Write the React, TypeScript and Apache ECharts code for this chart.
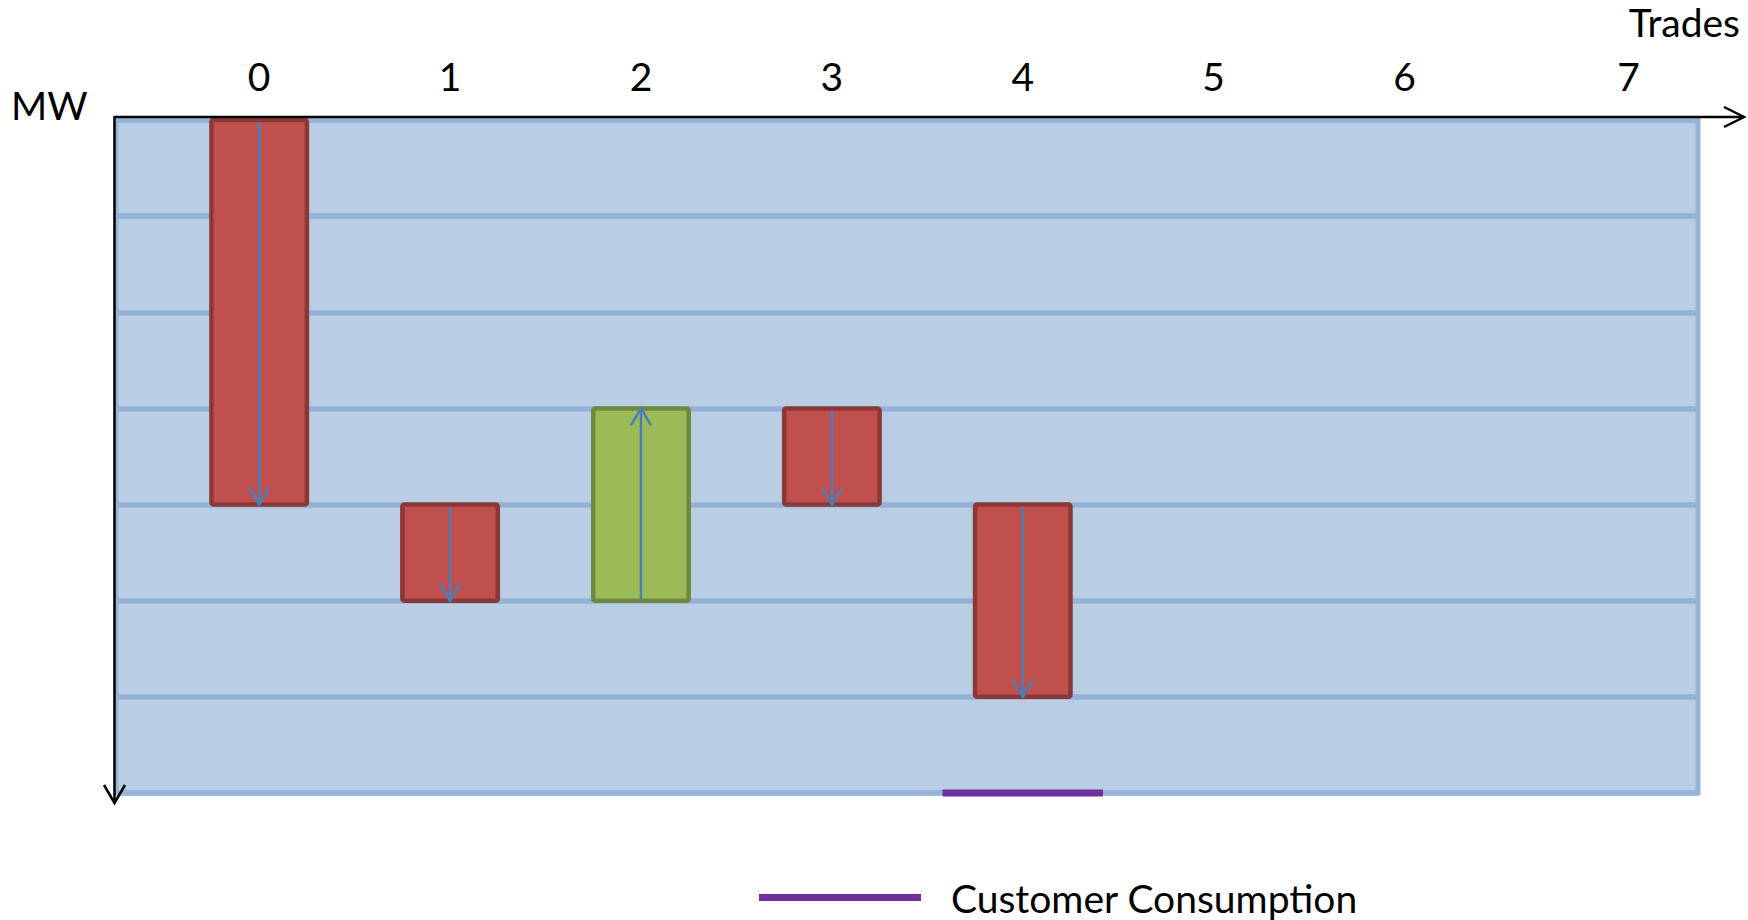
import React, { useEffect, useRef } from "react";
import * as echarts from "echarts";

// ---- data ----
const TRADE_LABELS = ["0", "1", "2", "3", "4", "5", "6", "7"];
const TRADE_TICKS = [0, 1, 2, 3, 4, 5, 6, 7];
const BAR_TRADE = [0, 1, 2, 3, 4];
const BAR_FROM_MW = [0, 4, 5, 3, 4];
const BAR_TO_MW = [4, 5, 3, 4, 6];
const CONSUMPTION_TRADE = [4];
const CONSUMPTION_MW = [7];
const MW_MIN = 0;
const MW_MAX = 7;

// ---- layout / style ----
const GRID_LEFT = 116;
const GRID_TOP = 120;
const GRID_W = 1582;
const GRID_H = 673;
const X_MIN = -0.75;
const X_MAX = 7.537;
const BAR_W = 0.5;
const CONS_HALF = 0.42;
const FONT = "Lato, 'Open Sans', sans-serif";
const FS = 39;

const RED = "#C0504D";
const RED_B = "#8C3836";
const GREEN = "#9BBB59";
const GREEN_B = "#71893F";
const ARROW = "#4A7EBB";
const PURPLE = "#7030A0";
const GRIDLINE = "#95B3D7";

export default function App() {
  const ref = useRef<HTMLDivElement>(null);
  useEffect(() => {
    document.body.style.margin = "0";
    const chart = echarts.init(ref.current!, null, { renderer: "svg" });
    const barData = BAR_TRADE.map((t, i) => [t, BAR_FROM_MW[i], BAR_TO_MW[i]]);
    const consData = CONSUMPTION_TRADE.map((t, i) => [t, CONSUMPTION_MW[i]]);

    const option: any = {
      animation: false,
      grid: {
        left: GRID_LEFT,
        top: GRID_TOP,
        width: GRID_W,
        height: GRID_H,
        show: true,
        backgroundColor: "#B9CDE5",
        borderColor: GRIDLINE,
        borderWidth: 5,
      },
      xAxis: {
        type: "value",
        position: "top",
        min: X_MIN,
        max: X_MAX,
        axisLine: { show: false },
        axisTick: { show: false },
        splitLine: { show: false },
        axisLabel: {
          customValues: TRADE_TICKS,
          margin: 25,
          color: "#000",
          fontSize: FS,
          fontFamily: FONT,
          formatter: (v: number) => {
            const idx = TRADE_TICKS.indexOf(Math.round(v));
            const s = TRADE_LABELS[idx] ?? String(v);
            return idx === TRADE_TICKS.length - 1 ? "{last|" + s + "}" : s;
          },
          rich: {
            last: { fontSize: FS, fontFamily: FONT, color: "#000", padding: [0, 0, 0, 66] },
          },
        },
      },
      yAxis: {
        type: "value",
        inverse: true,
        min: MW_MIN,
        max: MW_MAX,
        interval: 1,
        axisLine: { show: false },
        axisTick: { show: false },
        axisLabel: { show: false },
        splitLine: { show: true, lineStyle: { color: GRIDLINE, width: 5.5 } },
      },
      legend: {
        data: [{ name: "Customer Consumption", icon: "rect" }],
        left: 759,
        top: 878,
        padding: 0,
        itemWidth: 162,
        itemHeight: 7,
        textStyle: {
          fontSize: FS,
          fontFamily: FONT,
          color: "#000",
          lineHeight: 34,
          padding: [0, 0, 0, 25],
        },
      },
      series: [
        {
          type: "custom",
          name: "Trades",
          data: barData,
          encode: { x: 0, y: [1, 2] },
          renderItem: (params: any, api: any) => {
            const t = api.value(0);
            const a = api.value(1);
            const b = api.value(2);
            const p0 = api.coord([t, a]);
            const p1 = api.coord([t, b]);
            const w = api.size([BAR_W, 0])[0];
            const up = b < a;
            const top = Math.min(p0[1], p1[1]);
            const h = Math.abs(p1[1] - p0[1]);
            const dir = p1[1] > p0[1] ? 1 : -1;
            const x = p0[0];
            return {
              type: "group",
              children: [
                {
                  type: "rect",
                  shape: { x: x - w / 2, y: top, width: w, height: h, r: 2 },
                  style: { fill: up ? GREEN : RED, stroke: up ? GREEN_B : RED_B, lineWidth: 4.5 },
                },
                {
                  type: "line",
                  shape: { x1: x, y1: p0[1] + dir * 2, x2: x, y2: p1[1] },
                  style: { stroke: ARROW, lineWidth: 2.5 },
                },
                {
                  type: "polyline",
                  shape: {
                    points: [
                      [x - 10, p1[1] - dir * 17],
                      [x, p1[1]],
                      [x + 10, p1[1] - dir * 17],
                    ],
                  },
                  style: { stroke: ARROW, lineWidth: 2.5, fill: null },
                },
              ],
            };
          },
        },
        {
          type: "custom",
          name: "Customer Consumption",
          data: consData,
          encode: { x: 0, y: 1 },
          itemStyle: { color: PURPLE },
          z: 5,
          renderItem: (params: any, api: any) => {
            const t = api.value(0);
            const m = api.value(1);
            const pa = api.coord([t - CONS_HALF, m]);
            const pb = api.coord([t + CONS_HALF, m]);
            return {
              type: "line",
              shape: { x1: pa[0], y1: pa[1], x2: pb[0], y2: pb[1] },
              style: { stroke: PURPLE, lineWidth: 7 },
            };
          },
        },
      ],
      graphic: [
        {
          type: "line",
          z: 100,
          shape: { x1: 114.5, y1: 117, x2: 1744, y2: 117 },
          style: { stroke: "#000", lineWidth: 2.5 },
        },
        {
          type: "polyline",
          z: 100,
          shape: { points: [[1724, 107], [1744, 117], [1724, 127]] },
          style: { stroke: "#000", lineWidth: 2.5, fill: null },
        },
        {
          type: "line",
          z: 100,
          shape: { x1: 114.5, y1: 116, x2: 114.5, y2: 803 },
          style: { stroke: "#000", lineWidth: 2.5 },
        },
        {
          type: "polyline",
          z: 100,
          shape: { points: [[104, 785], [114.5, 803], [125, 785]] },
          style: { stroke: "#000", lineWidth: 2.5, fill: null },
        },
        {
          type: "text",
          z: 100,
          x: 11,
          y: 105,
          style: { text: "MW", fontSize: FS, fontFamily: FONT, fill: "#000", verticalAlign: "middle", align: "left" },
        },
        {
          type: "text",
          z: 100,
          x: 1740,
          y: 22,
          style: { text: "Trades", fontSize: FS, fontFamily: FONT, fill: "#000", verticalAlign: "middle", align: "right" },
        },
      ],
    };
    chart.setOption(option);
    return () => chart.dispose();
  }, []);
  return <div ref={ref} style={{ width: 1748, height: 920 }} />;
}
